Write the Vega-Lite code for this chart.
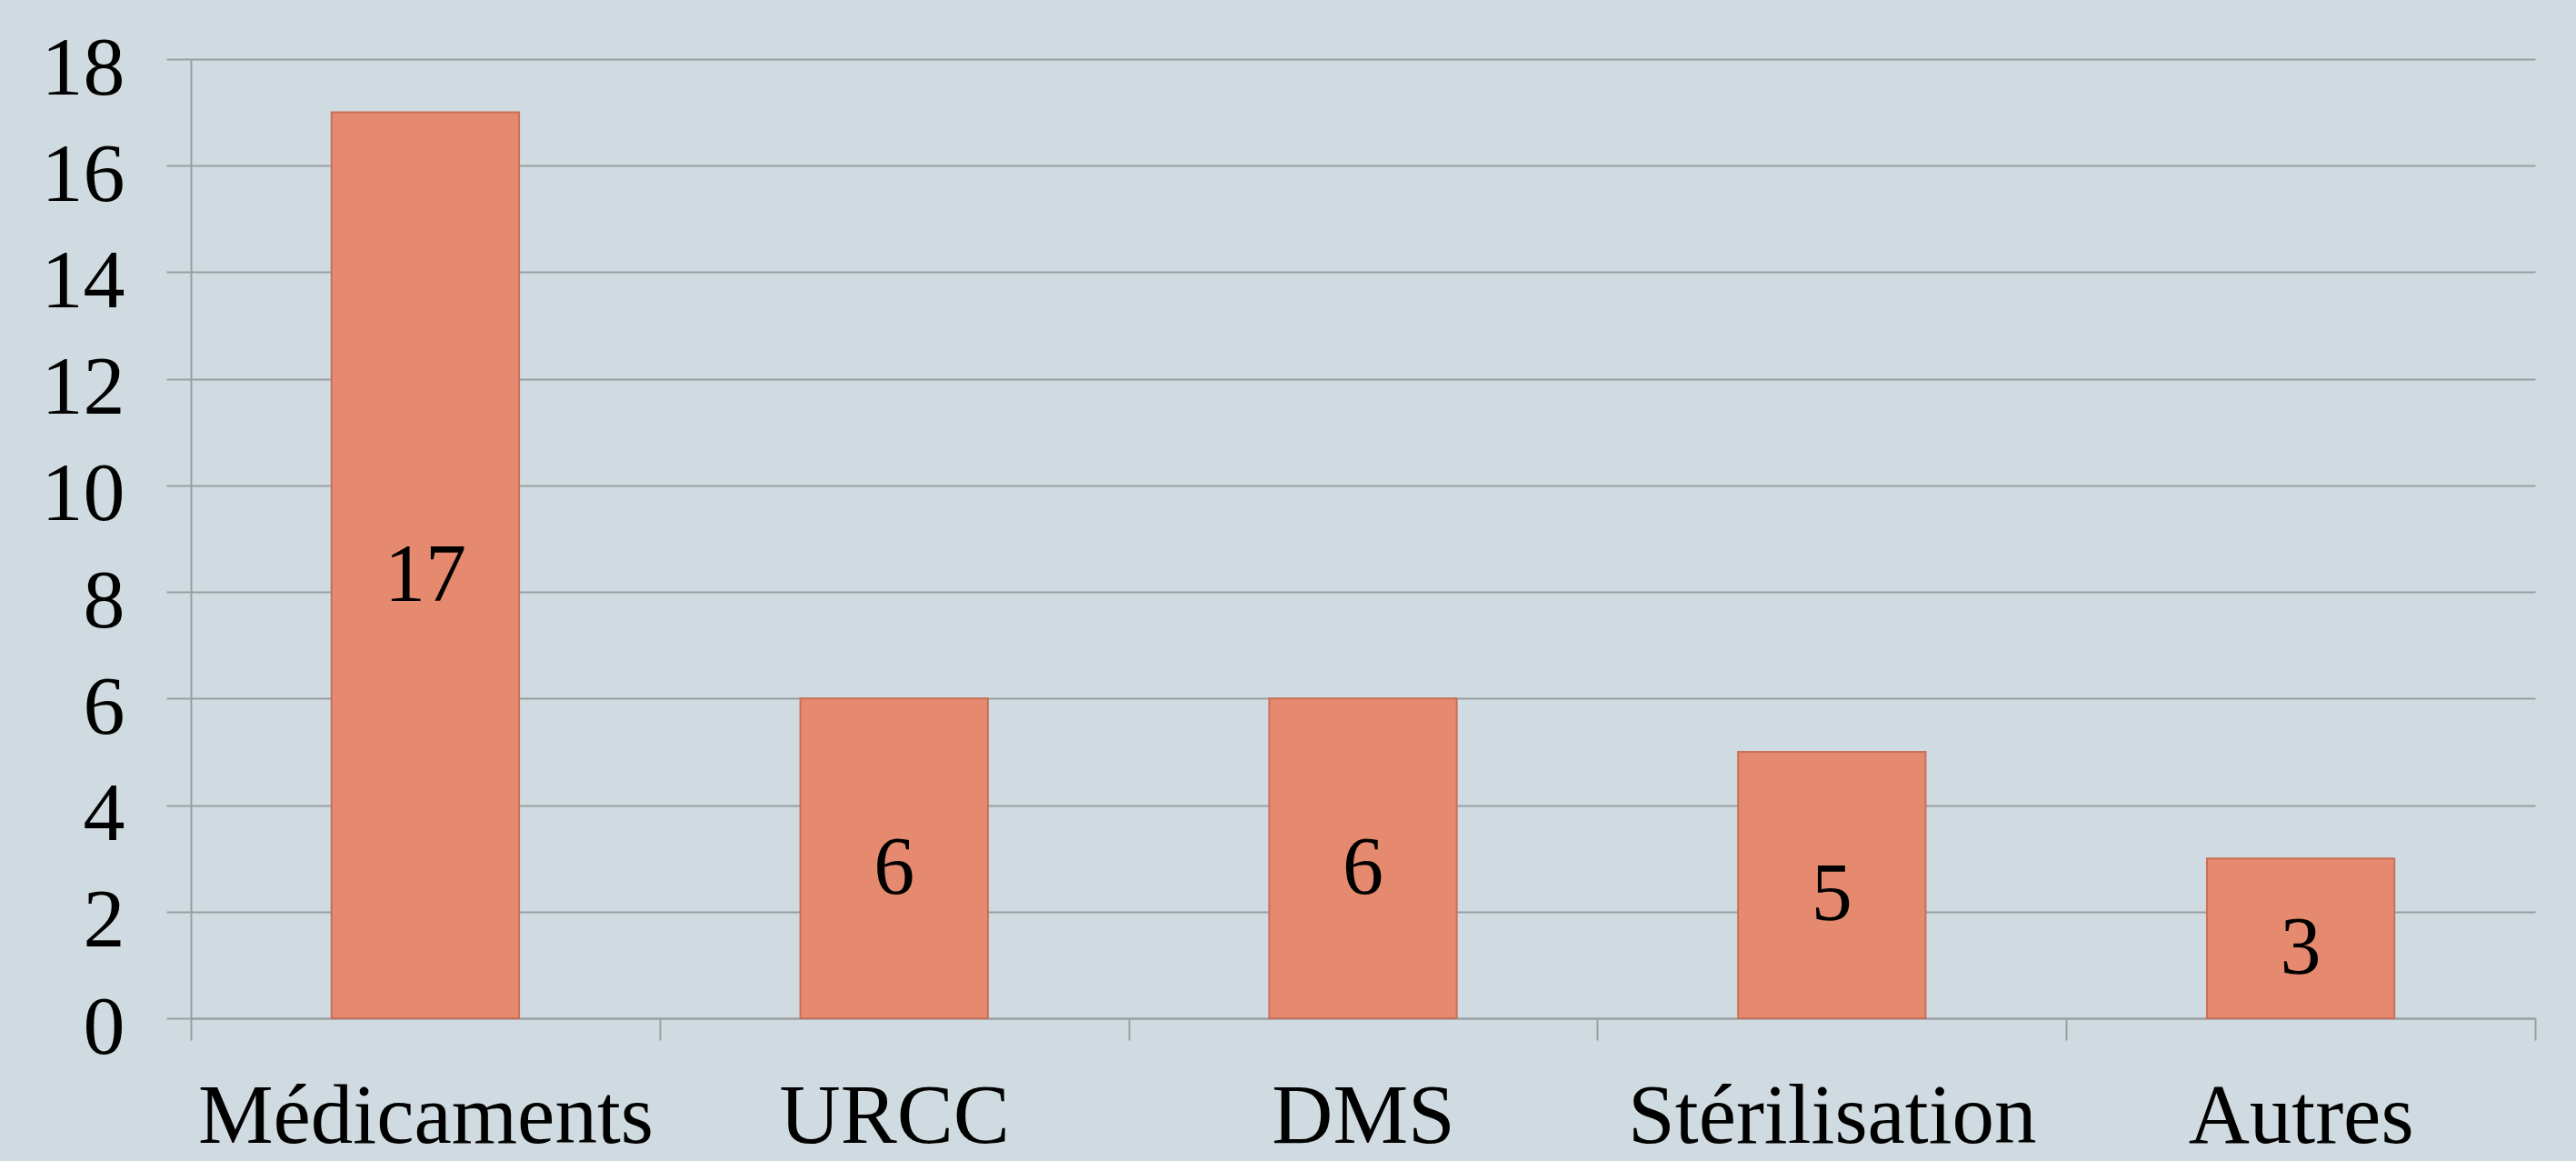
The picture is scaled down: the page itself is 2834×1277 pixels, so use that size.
{
  "$schema": "https://vega.github.io/schema/vega-lite/v6.json",
  "width": 2579,
  "height": 1055,
  "autosize": {"type": "none"},
  "padding": {"left": 210, "top": 65, "right": 45, "bottom": 157},
  "background": "#CFDBE0",
  "config": {"view": {"stroke": null}, "font": "Liberation Serif"},
  "data": {
    "values": [
      {"categorie": "Médicaments", "valeur": 17},
      {"categorie": "URCC", "valeur": 6},
      {"categorie": "DMS", "valeur": 6},
      {"categorie": "Stérilisation", "valeur": 5},
      {"categorie": "Autres", "valeur": 3}
    ]
  },
  "layer": [
    {
      "mark": {"type": "bar", "width": {"band": 0.4}, "color": "#E5896F", "stroke": "#C9705A", "strokeWidth": 2},
      "encoding": {
        "x": {
          "field": "categorie", "type": "nominal", "sort": null,
          "scale": {"paddingInner": 0, "paddingOuter": 0},
          "axis": {
            "title": null, "labelAngle": 0, "tickBand": "extent", "tickSize": 24,
            "tickColor": "#9A9EA0", "tickWidth": 2, "domainColor": "#9A9EA0", "domainWidth": 2,
            "labelFontSize": 93, "labelColor": "black", "labelPadding": 112, "labelLimit": 0,
            "labelBaseline": "alphabetic", "grid": false, "labelFont": "Liberation Serif"
          }
        },
        "y": {
          "field": "valeur", "type": "quantitative",
          "scale": {"domain": [0, 18], "nice": false},
          "axis": {
            "title": null, "values": [0, 2, 4, 6, 8, 10, 12, 14, 16, 18],
            "tickSize": 27, "tickColor": "#9A9EA0", "tickWidth": 2,
            "gridColor": "#9A9EA0", "gridWidth": 2, "grid": true,
            "domainColor": "#9A9EA0", "domainWidth": 2,
            "labelFontSize": 92, "labelColor": "black", "labelPadding": 46,
            "labelOffset": 10, "labelFont": "Liberation Serif"
          }
        }
      }
    },
    {
      "mark": {"type": "text", "fontSize": 90, "baseline": "middle", "dy": 12, "color": "black", "font": "Liberation Serif"},
      "encoding": {
        "x": {"field": "categorie", "type": "nominal", "sort": null},
        "y": {"field": "valeur", "type": "quantitative", "scale": {"domain": [0, 36], "nice": false}, "axis": null},
        "text": {"field": "valeur", "type": "quantitative"}
      }
    }
  ],
  "resolve": {"scale": {"y": "independent"}}
}
